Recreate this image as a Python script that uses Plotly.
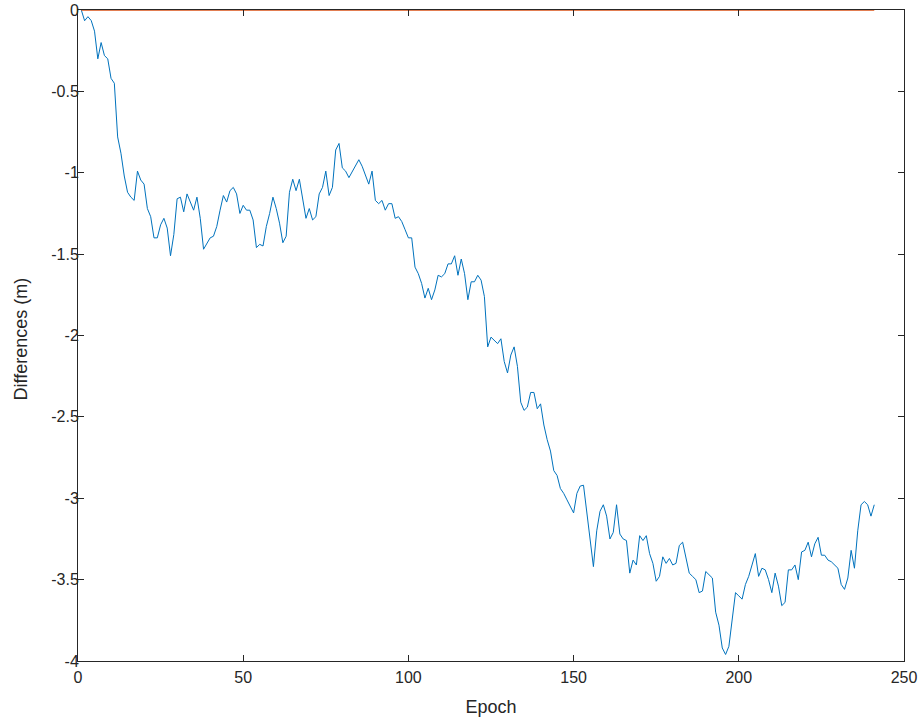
import plotly.graph_objects as go

epochs = list(range(1, 242))
diff_blue = [
    0, -0.066, -0.041, -0.065, -0.13, -0.30, -0.20, -0.28, -0.30, -0.42,
    -0.45, -0.78, -0.88, -1.02, -1.12, -1.15, -1.17, -0.99, -1.045, -1.07,
    -1.22, -1.27, -1.40, -1.40, -1.32, -1.28, -1.34, -1.51, -1.38, -1.16,
    -1.15, -1.24, -1.13, -1.18, -1.23, -1.15, -1.28, -1.47, -1.43, -1.40,
    -1.39, -1.33, -1.23, -1.14, -1.18, -1.11, -1.09, -1.13, -1.25, -1.20,
    -1.23, -1.23, -1.29, -1.46, -1.44, -1.45, -1.33, -1.25, -1.15, -1.22,
    -1.31, -1.43, -1.39, -1.12, -1.04, -1.11, -1.04, -1.15, -1.28, -1.22,
    -1.29, -1.27, -1.13, -1.09, -0.99, -1.14, -1.09, -0.86, -0.82, -0.97,
    -0.99, -1.03, -0.99, -0.95, -0.92, -0.96, -1.01, -1.07, -0.99, -1.17,
    -1.19, -1.17, -1.23, -1.19, -1.19, -1.28, -1.27, -1.30, -1.35, -1.40,
    -1.40, -1.58, -1.62, -1.68, -1.77, -1.71, -1.78, -1.72, -1.63, -1.64,
    -1.62, -1.56, -1.56, -1.51, -1.63, -1.53, -1.62, -1.78, -1.67, -1.67,
    -1.63, -1.66, -1.76, -2.07, -2.01, -2.03, -2.05, -2.02, -2.16, -2.23,
    -2.12, -2.07, -2.19, -2.41, -2.46, -2.44, -2.35, -2.35, -2.45, -2.42,
    -2.55, -2.64, -2.71, -2.83, -2.86, -2.94, -2.97, -3.01, -3.05, -3.09,
    -2.97, -2.925, -2.92, -3.10, -3.26, -3.42, -3.20, -3.08, -3.04, -3.11,
    -3.25, -3.21, -3.04, -3.22, -3.25, -3.26, -3.46, -3.38, -3.41, -3.23,
    -3.26, -3.23, -3.34, -3.40, -3.51, -3.48, -3.36, -3.40, -3.37, -3.41,
    -3.40, -3.29, -3.27, -3.36, -3.46, -3.48, -3.50, -3.58, -3.57, -3.45,
    -3.47, -3.49, -3.70, -3.78, -3.92, -3.96, -3.91, -3.73, -3.58, -3.60,
    -3.62, -3.53, -3.48, -3.41, -3.34, -3.48, -3.43, -3.44, -3.50, -3.58,
    -3.46, -3.54, -3.66, -3.64, -3.44, -3.44, -3.41, -3.50, -3.33, -3.32,
    -3.27, -3.36, -3.28, -3.24, -3.35, -3.35, -3.38, -3.39, -3.41, -3.43,
    -3.53, -3.56, -3.49, -3.32, -3.43, -3.20, -3.04, -3.02, -3.04, -3.11,
    -3.04,
]
diff_red = [0.0] * len(epochs)

x_ticks = [0, 50, 100, 150, 200, 250]
y_ticks = [0, -0.5, -1, -1.5, -2, -2.5, -3, -3.5, -4]
y_tick_text = ["0", "-0.5", "-1", "-1.5", "-2", "-2.5", "-3", "-3.5", "-4"]

fig = go.Figure()
fig.add_trace(go.Scatter(x=epochs, y=diff_blue, mode="lines",
                         line=dict(color="#0072BD", width=1), showlegend=False))
fig.add_trace(go.Scatter(x=epochs, y=diff_red, mode="lines",
                         line=dict(color="#D95319", width=1.5), showlegend=False,
                         cliponaxis=False))

axis_common = dict(
    showgrid=False, zeroline=False, showline=True, linecolor="#262626",
    linewidth=1, mirror="ticks", ticks="inside", ticklen=6, tickcolor="#262626",
    automargin=False,
    tickfont=dict(family="Liberation Sans, Arial, sans-serif", size=16, color="#262626"),
)

fig.update_layout(
    width=920, height=723,
    margin=dict(l=78, r=16, t=10, b=62, autoexpand=False),
    paper_bgcolor="white", plot_bgcolor="white",
    font=dict(family="Liberation Sans, Arial, sans-serif", color="#262626"),
    xaxis=dict(range=[0, 250], tickvals=x_ticks, ticklabelstandoff=2,
               title=dict(text="Epoch", font=dict(size=18)),
               **axis_common),
    yaxis=dict(range=[-4, 0], tickvals=y_ticks, ticktext=y_tick_text,
               ticklabelstandoff=-5,
               **axis_common),
    annotations=[dict(text="Differences (m)", xref="paper", yref="paper",
                      x=0, y=0.5, xanchor="center", yanchor="middle",
                      xshift=-58, yshift=-4, textangle=-90, showarrow=False,
                      font=dict(size=18, color="#262626"))],
)

fig.write_html("out.html", config={"displayModeBar": False},
               post_script="document.body.style.margin='0';")
